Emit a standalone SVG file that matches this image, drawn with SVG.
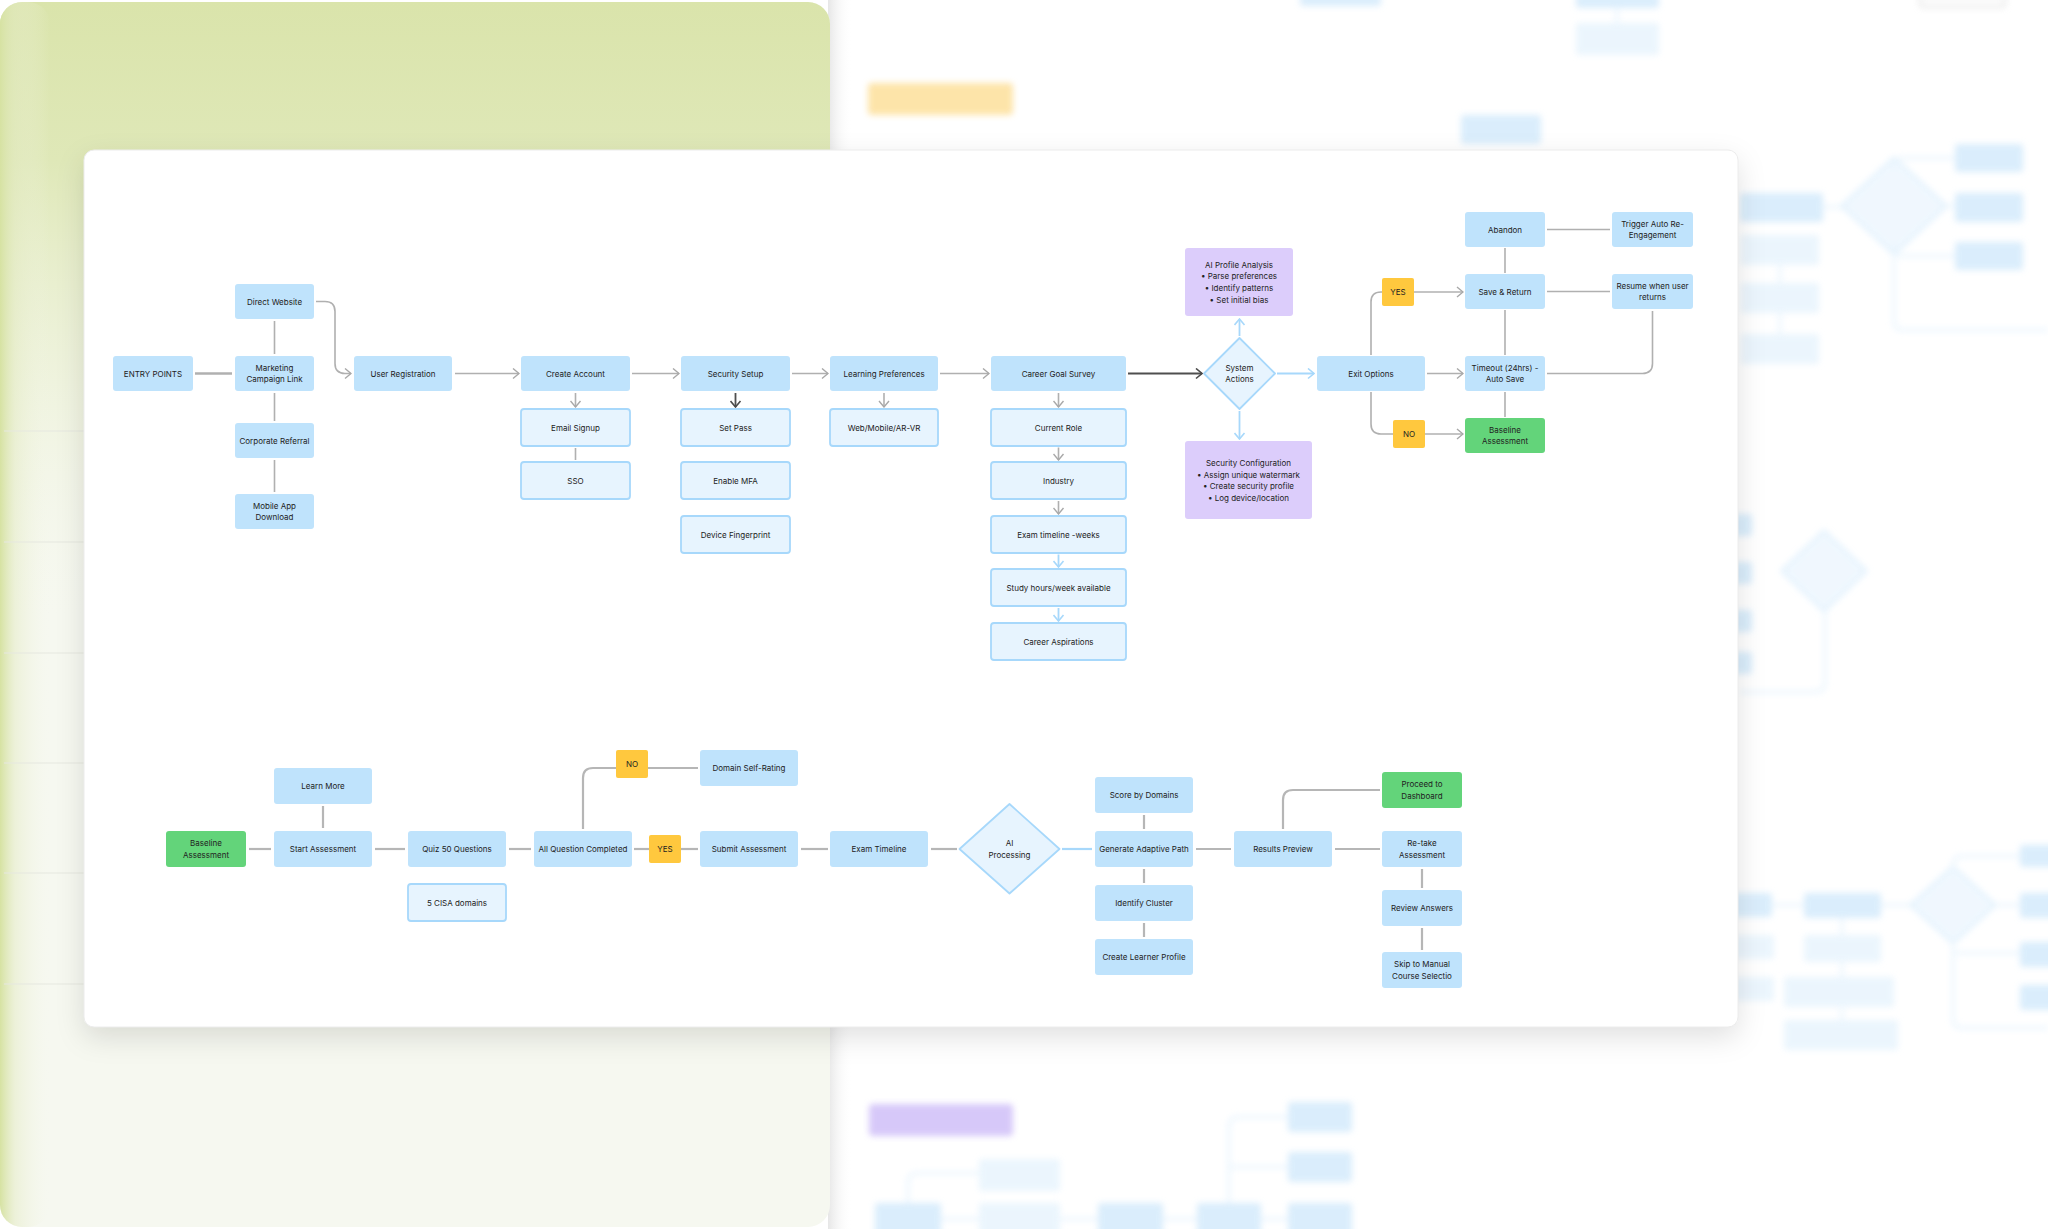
<svg xmlns="http://www.w3.org/2000/svg" width="2048" height="1229" viewBox="0 0 2048 1229">
<defs>
<style>
.n{fill:#bfe3fc}
.l{fill:#e7f4fe;stroke:#a7d8fb;stroke-width:1.8}
.p{fill:#dccdfb}
.g{fill:#63d47a}
.y{fill:#ffc83e}
.d{fill:#e7f4fe;stroke:#a7d8fb;stroke-width:1.8}
text{font-family:Inter,"Liberation Sans",sans-serif;font-size:8px;fill:#222;text-anchor:middle;dominant-baseline:central}
.c path{fill:none;stroke:#b0b0b0;stroke-width:1.6}
.c .k{stroke:#4f4f4f;stroke-width:1.8}
.c .b{stroke:#a7d8fb;stroke-width:1.8}
.c .w{stroke:#b6b6b6;stroke-width:2.2}
.bg rect{fill:#cbe6fb}
.bg .lt{fill:#e3f2fd}
.bg path{fill:none;stroke:#e1f1fd;stroke-width:3}
</style>
<marker id="ag" viewBox="0 0 8 12" markerWidth="8" markerHeight="12" refX="7" refY="6" orient="auto" markerUnits="userSpaceOnUse"><path d="M1,1 L7,6 L1,11" fill="none" stroke="#a8a8a8" stroke-width="1.4"/></marker>
<marker id="ak" viewBox="0 0 8 12" markerWidth="8" markerHeight="12" refX="7" refY="6" orient="auto" markerUnits="userSpaceOnUse"><path d="M1,1 L7,6 L1,11" fill="none" stroke="#4a4a4a" stroke-width="1.6"/></marker>
<marker id="ab" viewBox="0 0 8 12" markerWidth="8" markerHeight="12" refX="7" refY="6" orient="auto" markerUnits="userSpaceOnUse"><path d="M1,1 L7,6 L1,11" fill="none" stroke="#a7d8fb" stroke-width="1.6"/></marker>
<linearGradient id="gv" x1="0" y1="0" x2="0" y2="1">
<stop offset="0" stop-color="#dae4ab"/>
<stop offset="0.13" stop-color="#dfe8b8"/>
<stop offset="0.3" stop-color="#e9efcf" stop-opacity="0.6"/>
<stop offset="0.5" stop-color="#f3f6e6" stop-opacity="0"/>
</linearGradient>
<linearGradient id="gh" x1="0" y1="0" x2="1" y2="0">
<stop offset="0" stop-color="#d6e2a2"/>
<stop offset="0.3" stop-color="#e3eac2" stop-opacity="0.5"/>
<stop offset="1" stop-color="#f5f7ea" stop-opacity="0"/>
</linearGradient>
<linearGradient id="gs" x1="0" y1="0" x2="1" y2="0">
<stop offset="0" stop-color="#e6e6e6"/>
<stop offset="1" stop-color="#ffffff" stop-opacity="0"/>
</linearGradient>
<filter id="blur" x="-10%" y="-10%" width="120%" height="120%"><feGaussianBlur stdDeviation="3.2"/></filter>
<filter id="sh" x="-5%" y="-5%" width="110%" height="115%"><feDropShadow dx="0" dy="10" stdDeviation="14" flood-color="#000" flood-opacity="0.12"/></filter>
</defs>

<rect x="0" y="0" width="2048" height="1229" fill="#ffffff"/>

<!-- background scene -->
<g id="background">
<rect x="828" y="0" width="24" height="1229" fill="url(#gs)"/>
<rect x="0" y="2" width="830" height="1225" rx="22" fill="#f6f8f0"/>
<rect x="0" y="2" width="830" height="1225" rx="22" fill="url(#gv)"/>
<rect x="0" y="2" width="50" height="1225" rx="22" fill="url(#gh)"/>
<g stroke="#e6e8e0" stroke-width="1.2">
<line x1="4" y1="431" x2="84" y2="431"/>
<line x1="4" y1="542" x2="84" y2="542"/>
<line x1="4" y1="653" x2="84" y2="653"/>
<line x1="4" y1="763" x2="84" y2="763"/>
<line x1="4" y1="873" x2="84" y2="873"/>
<line x1="4" y1="984" x2="84" y2="984"/>
</g>
<g class="bg" filter="url(#blur)" opacity="0.7">
<rect x="868" y="83" width="145" height="32" rx="4" style="fill:#fdd985"/>
<rect x="869" y="1104" width="144" height="32" rx="4" style="fill:#c6b2f7"/>
<rect x="1300" y="-6" width="81" height="12" rx="3"/>
<rect x="1576" y="-6" width="83" height="14" rx="3"/>
<path d="M1617,8 V24"/>
<rect x="1576" y="23" width="83" height="32" rx="3" class="lt"/>
<rect x="1920" y="-6" width="85" height="13" rx="3" style="fill:#fafafa;stroke:#d8d8d8;stroke-width:2"/>
<rect x="1461" y="115" width="80" height="29" rx="3"/>
<rect x="1740" y="193" width="83" height="29" rx="3"/>
<path d="M1823,207 H1842"/>
<path d="M1894,158 L1946,206 L1894,254 L1842,206 Z" style="fill:#eaf5fe;stroke:#d2eafc"/>
<path d="M1894,170 V165 Q1894,158 1904,158 H1955"/>
<path d="M1946,206 H1955"/>
<path d="M1894,244 V248 Q1894,256 1904,256 H1955"/>
<path d="M1894,254 V322 Q1894,330 1904,330 H2048"/>
<rect x="1955" y="144" width="68" height="28" rx="3"/>
<rect x="1955" y="193" width="68" height="29" rx="3"/>
<rect x="1955" y="242" width="68" height="28" rx="3"/>
<rect x="1741" y="235" width="78" height="30" rx="3" class="lt"/>
<rect x="1741" y="283" width="78" height="30" rx="3" class="lt"/>
<rect x="1741" y="334" width="78" height="30" rx="3" class="lt"/>
<path d="M1780,265 V283 M1780,313 V334"/>
<rect x="1730" y="514" width="22" height="22" rx="3"/>
<rect x="1730" y="562" width="22" height="22" rx="3"/>
<rect x="1730" y="610" width="22" height="22" rx="3"/>
<rect x="1730" y="652" width="22" height="22" rx="3"/>
<path d="M1824,531 L1866,571 L1824,611 L1782,571 Z" style="fill:#eaf5fe;stroke:#d2eafc"/>
<path d="M1825,611 V682 Q1825,692 1815,692 H1740"/>
<rect x="1730" y="893" width="42" height="24" rx="3"/>
<rect x="1730" y="935" width="44" height="24" rx="3" class="lt"/>
<rect x="1730" y="977" width="44" height="24" rx="3" class="lt"/>
<path d="M1772,905 H1804"/>
<rect x="1804" y="893" width="77" height="25" rx="3"/>
<path d="M1881,905 H1911"/>
<path d="M1953,867 L1995,905 L1953,943 L1911,905 Z" style="fill:#eaf5fe;stroke:#d2eafc"/>
<path d="M1953,870 V866 Q1953,856 1963,856 H2022 M1995,905 H2022 M1953,940 V950 Q1953,953 1963,953 H2022 M1953,943 V1020 Q1953,1028 1963,1028 H2048"/>
<rect x="2020" y="845" width="40" height="22" rx="3"/>
<rect x="2020" y="893" width="40" height="25" rx="3"/>
<rect x="2020" y="942" width="40" height="25" rx="3"/>
<rect x="2020" y="985" width="40" height="25" rx="3"/>
<path d="M1842,918 V935 M1842,961 V977 M1842,1008 V1020"/>
<rect x="1804" y="935" width="77" height="27" rx="3" class="lt"/>
<rect x="1784" y="977" width="110" height="30" rx="3" class="lt"/>
<rect x="1784" y="1020" width="114" height="30" rx="3" class="lt"/>
<rect x="979" y="1159" width="81" height="32" rx="3" class="lt"/>
<path d="M908,1203 V1183 Q908,1173 918,1173 H979"/>
<rect x="875" y="1203" width="66" height="40" rx="3"/>
<path d="M941,1219 H979 M1060,1219 H1098 M1163,1219 H1197 M1261,1219 H1288"/>
<rect x="979" y="1203" width="81" height="40" rx="3" class="lt"/>
<rect x="1098" y="1203" width="65" height="40" rx="3"/>
<rect x="1197" y="1203" width="64" height="40" rx="3"/>
<path d="M1229,1203 V1127 Q1229,1117 1239,1117 H1288 M1229,1167 H1288"/>
<rect x="1288" y="1102" width="64" height="30" rx="3"/>
<rect x="1288" y="1152" width="64" height="30" rx="3"/>
<rect x="1288" y="1203" width="64" height="40" rx="3"/>
</g>
</g>

<!-- card -->
<rect id="card" x="84" y="150" width="1654" height="877" rx="10" fill="#ffffff" filter="url(#sh)"/>
<rect x="84" y="150" width="1654" height="877" rx="10" fill="none" stroke="#ececec" stroke-width="1"/>

<!-- connectors -->
<g id="connectors" class="c">
<path d="M195,373.5 H232" style="stroke-width:2.4"/>
<path d="M274.5,321 V354"/>
<path d="M274.5,393 V421"/>
<path d="M274.5,460 V492"/>
<path d="M316,301.5 H325 Q335,301.5 335,311.5 V363.5 Q335,373.5 345,373.5 H351" marker-end="url(#ag)"/>
<path d="M455,373.5 H519" marker-end="url(#ag)"/>
<path d="M632,373.5 H679" marker-end="url(#ag)"/>
<path d="M575.5,393 V407" marker-end="url(#ag)"/>
<path d="M575.5,448 V460"/>
<path class="k" d="M735.5,393 V407" marker-end="url(#ak)"/>
<path d="M792,373.5 H828" marker-end="url(#ag)"/>
<path d="M884,393 V407" marker-end="url(#ag)"/>
<path d="M940,373.5 H989" marker-end="url(#ag)"/>
<path d="M1058.5,393 V407" marker-end="url(#ag)"/>
<path d="M1058.5,447.5 V460" marker-end="url(#ag)"/>
<path d="M1058.5,501 V514" marker-end="url(#ag)"/>
<path class="b" d="M1058.5,554.5 V567" marker-end="url(#ab)"/>
<path class="b" d="M1058.5,608 V621" marker-end="url(#ab)"/>
<path class="k" d="M1128,373.5 H1202" marker-end="url(#ak)" style="stroke-width:2.2"/>
<path class="b" d="M1239.5,336 V319" marker-end="url(#ab)"/>
<path class="b" d="M1239.5,411 V439" marker-end="url(#ab)"/>
<path class="b" d="M1277,373.5 H1314" marker-end="url(#ab)"/>
<path d="M1427,373.5 H1463" marker-end="url(#ag)"/>
<path d="M1371,355 V302 Q1371,292 1381,292 H1382"/>
<path d="M1414,292 H1463" marker-end="url(#ag)"/>
<path d="M1371,392 V424 Q1371,434 1381,434 H1393"/>
<path d="M1425,434 H1463" marker-end="url(#ag)"/>
<path d="M1505,248 V273"/>
<path d="M1505,310 V355"/>
<path d="M1505,392 V417"/>
<path d="M1547,229.5 H1610"/>
<path d="M1547,291.5 H1610"/>
<path d="M1547,373.5 H1642.5 Q1652.5,373.5 1652.5,363.5 V311"/>

<path class="w" d="M249,849 H271"/>
<path class="w" d="M323,806 V828"/>
<path class="w" d="M375,849 H405"/>
<path class="w" d="M509,849 H531"/>
<path class="w" d="M634,849 H649"/>
<path class="w" d="M681,849 H698"/>
<path class="w" d="M583,829 V778 Q583,768 593,768 H616"/>
<path class="w" d="M648,768 H698"/>
<path class="w" d="M801,849 H828"/>
<path class="w" d="M931,849 H957"/>
<path class="b" d="M1062,849 H1092" style="stroke-width:2.2"/>
<path class="w" d="M1144,815 V829"/>
<path class="w" d="M1144,869 V883"/>
<path class="w" d="M1144,923 V937"/>
<path class="w" d="M1196,849 H1231"/>
<path class="w" d="M1283,829 V800 Q1283,790 1293,790 H1380"/>
<path class="w" d="M1335,849 H1380"/>
<path class="w" d="M1422,869 V888"/>
<path class="w" d="M1422,928 V950"/>
</g>

<!-- nodes: top -->
<g id="entry-points"><rect class="n" x="113" y="356" width="80" height="35" rx="3"/><text x="153" y="373.5">ENTRY POINTS</text></g>
<g id="direct-website"><rect class="n" x="235" y="284" width="79" height="35" rx="3"/><text x="274.5" y="301.5">Direct Website</text></g>
<g id="marketing"><rect class="n" x="235" y="356" width="79" height="35" rx="3"/><text x="274.5" y="367.7">Marketing</text><text x="274.5" y="379.4">Campaign Link</text></g>
<g id="corporate-referral"><rect class="n" x="235" y="423" width="79" height="35" rx="3"/><text x="274.5" y="440.5">Corporate Referral</text></g>
<g id="mobile-app"><rect class="n" x="235" y="494" width="79" height="35" rx="3"/><text x="274.5" y="505.7">Mobile App</text><text x="274.5" y="517.4">Download</text></g>
<g id="user-registration"><rect class="n" x="354" y="356" width="98" height="35" rx="3"/><text x="403" y="373.5">User Registration</text></g>
<g id="create-account"><rect class="n" x="521" y="356" width="109" height="35" rx="3"/><text x="575.5" y="373.5">Create Account</text></g>
<g id="email-signup"><rect class="l" x="521" y="409" width="109" height="37" rx="3"/><text x="575.5" y="427.5">Email Signup</text></g>
<g id="sso"><rect class="l" x="521" y="462" width="109" height="37" rx="3"/><text x="575.5" y="480.5">SSO</text></g>
<g id="security-setup"><rect class="n" x="681" y="356" width="109" height="35" rx="3"/><text x="735.5" y="373.5">Security Setup</text></g>
<g id="set-pass"><rect class="l" x="681" y="409" width="109" height="37" rx="3"/><text x="735.5" y="427.5">Set Pass</text></g>
<g id="enable-mfa"><rect class="l" x="681" y="462" width="109" height="37" rx="3"/><text x="735.5" y="480.5">Enable MFA</text></g>
<g id="device-fingerprint"><rect class="l" x="681" y="516" width="109" height="37" rx="3"/><text x="735.5" y="534.5">Device Fingerprint</text></g>
<g id="learning-preferences"><rect class="n" x="830" y="356" width="108" height="35" rx="3"/><text x="884" y="373.5">Learning Preferences</text></g>
<g id="web-mobile"><rect class="l" x="830" y="409" width="108" height="37" rx="3"/><text x="884" y="427.5">Web/Mobile/AR-VR</text></g>
<g id="career-goal-survey"><rect class="n" x="991" y="356" width="135" height="35" rx="3"/><text x="1058.5" y="373.5">Career Goal Survey</text></g>
<g id="current-role"><rect class="l" x="991" y="409" width="135" height="37" rx="3"/><text x="1058.5" y="427.5">Current Role</text></g>
<g id="industry"><rect class="l" x="991" y="462" width="135" height="37" rx="3"/><text x="1058.5" y="480.5">Industry</text></g>
<g id="exam-timeline-weeks"><rect class="l" x="991" y="516" width="135" height="37" rx="3"/><text x="1058.5" y="534.5">Exam timeline -weeks</text></g>
<g id="study-hours"><rect class="l" x="991" y="569" width="135" height="37" rx="3"/><text x="1058.5" y="587.5">Study hours/week available</text></g>
<g id="career-aspirations"><rect class="l" x="991" y="623" width="135" height="37" rx="3"/><text x="1058.5" y="641.5">Career Aspirations</text></g>
<g id="system-actions"><path class="d" d="M1239.5,338 L1275,373.5 L1239.5,409 L1204,373.5 Z" stroke-linejoin="round"/><text x="1239.5" y="367.7">System</text><text x="1239.5" y="379.4">Actions</text></g>
<g id="ai-profile-analysis"><rect class="p" x="1185" y="248" width="108" height="68" rx="3"/><text x="1239" y="264.5">AI Profile Analysis</text><text x="1239" y="276.2">• Parse preferences</text><text x="1239" y="287.9">• Identify patterns</text><text x="1239" y="299.6">• Set initial bias</text></g>
<g id="security-configuration"><rect class="p" x="1185" y="441" width="127" height="78" rx="3"/><text x="1248.5" y="463">Security Configuration</text><text x="1248.5" y="474.7">• Assign unique watermark</text><text x="1248.5" y="486.4">• Create security profile</text><text x="1248.5" y="498.1">• Log device/location</text></g>
<g id="exit-options"><rect class="n" x="1317" y="356" width="108" height="35" rx="3"/><text x="1371" y="373.5">Exit Options</text></g>
<g id="yes-exit"><rect class="y" x="1382" y="278" width="32" height="28" rx="2"/><text x="1398" y="292">YES</text></g>
<g id="no-exit"><rect class="y" x="1393" y="420" width="32" height="28" rx="2"/><text x="1409" y="434">NO</text></g>
<g id="abandon"><rect class="n" x="1465" y="212" width="80" height="35" rx="3"/><text x="1505" y="229.5">Abandon</text></g>
<g id="save-return"><rect class="n" x="1465" y="274" width="80" height="35" rx="3"/><text x="1505" y="291.5">Save &amp; Return</text></g>
<g id="timeout"><rect class="n" x="1465" y="356" width="80" height="35" rx="3"/><text x="1505" y="367.7">Timeout (24hrs) -</text><text x="1505" y="379.4">Auto Save</text></g>
<g id="baseline-top"><rect class="g" x="1465" y="418" width="80" height="35" rx="3"/><text x="1505" y="429.7">Baseline</text><text x="1505" y="441.4">Assessment</text></g>
<g id="trigger-reengagement"><rect class="n" x="1612" y="212" width="81" height="35" rx="3"/><text x="1652.5" y="223.7">Trigger Auto Re-</text><text x="1652.5" y="235.4">Engagement</text></g>
<g id="resume"><rect class="n" x="1612" y="274" width="81" height="35" rx="3"/><text x="1652.5" y="285.7">Resume when user</text><text x="1652.5" y="297.4">returns</text></g>

<!-- nodes: bottom -->
<g id="baseline-bottom"><rect class="g" x="166" y="831" width="80" height="36" rx="3"/><text x="206" y="843.2">Baseline</text><text x="206" y="854.9">Assessment</text></g>
<g id="start-assessment"><rect class="n" x="274" y="831" width="98" height="36" rx="3"/><text x="323" y="849">Start Assessment</text></g>
<g id="learn-more"><rect class="n" x="274" y="768" width="98" height="36" rx="3"/><text x="323" y="786">Learn More</text></g>
<g id="quiz"><rect class="n" x="408" y="831" width="98" height="36" rx="3"/><text x="457" y="849">Quiz 50 Questions</text></g>
<g id="cisa-domains"><rect class="l" x="408" y="884" width="98" height="37" rx="3"/><text x="457" y="902.5">5 CISA domains</text></g>
<g id="all-question-completed"><rect class="n" x="534" y="831" width="98" height="36" rx="3"/><text x="583" y="849">All Question Completed</text></g>
<g id="yes-all"><rect class="y" x="649" y="835" width="32" height="28" rx="2"/><text x="665" y="849">YES</text></g>
<g id="no-all"><rect class="y" x="616" y="750" width="32" height="28" rx="2"/><text x="632" y="764">NO</text></g>
<g id="domain-self-rating"><rect class="n" x="700" y="750" width="98" height="36" rx="3"/><text x="749" y="768">Domain Self-Rating</text></g>
<g id="submit-assessment"><rect class="n" x="700" y="831" width="98" height="36" rx="3"/><text x="749" y="849">Submit Assessment</text></g>
<g id="exam-timeline"><rect class="n" x="830" y="831" width="98" height="36" rx="3"/><text x="879" y="849">Exam Timeline</text></g>
<g id="ai-processing"><path class="d" d="M1009.5,804 L1059.5,849 L1009.5,893.5 L959.5,849 Z" stroke-linejoin="round"/><text x="1009.5" y="843.2">AI</text><text x="1009.5" y="854.9">Processing</text></g>
<g id="generate-adaptive-path"><rect class="n" x="1095" y="831" width="98" height="36" rx="3"/><text x="1144" y="849">Generate Adaptive Path</text></g>
<g id="score-by-domains"><rect class="n" x="1095" y="777" width="98" height="36" rx="3"/><text x="1144" y="795">Score by Domains</text></g>
<g id="identify-cluster"><rect class="n" x="1095" y="885" width="98" height="36" rx="3"/><text x="1144" y="903">Identify Cluster</text></g>
<g id="create-learner-profile"><rect class="n" x="1095" y="939" width="98" height="36" rx="3"/><text x="1144" y="957">Create Learner Profile</text></g>
<g id="results-preview"><rect class="n" x="1234" y="831" width="98" height="36" rx="3"/><text x="1283" y="849">Results Preview</text></g>
<g id="proceed-dashboard"><rect class="g" x="1382" y="772" width="80" height="36" rx="3"/><text x="1422" y="784.2">Proceed to</text><text x="1422" y="795.9">Dashboard</text></g>
<g id="retake"><rect class="n" x="1382" y="831" width="80" height="36" rx="3"/><text x="1422" y="843.2">Re-take</text><text x="1422" y="854.9">Assessment</text></g>
<g id="review-answers"><rect class="n" x="1382" y="890" width="80" height="36" rx="3"/><text x="1422" y="908">Review Answers</text></g>
<g id="skip-manual"><rect class="n" x="1382" y="952" width="80" height="36" rx="3"/><text x="1422" y="964.2">Skip to Manual</text><text x="1422" y="975.9">Course Selectio</text></g>
</svg>
